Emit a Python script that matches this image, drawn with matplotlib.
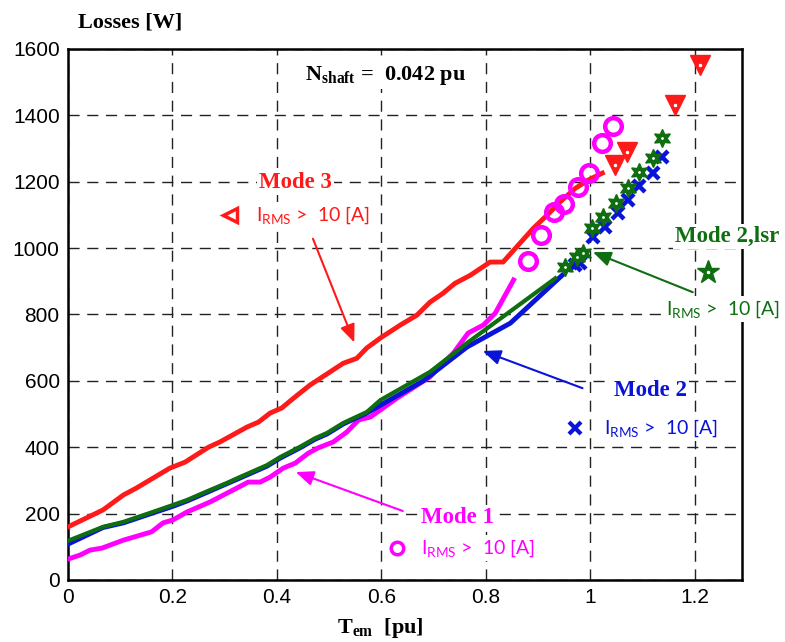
import matplotlib.pyplot as plt
import numpy as np

# Mode 3 (red)
x_m3 = [0, 0.067, 0.106, 0.131, 0.195, 0.224, 0.269, 0.291, 0.343, 0.365, 0.387, 0.409, 0.432,
        0.463, 0.527, 0.553, 0.572, 0.598, 0.636, 0.668, 0.693, 0.718, 0.741, 0.770, 0.808, 0.833,
        0.862, 0.891, 0.917, 0.942, 0.971, 0.996, 1.023]
y_m3 = [160, 211, 256, 277, 337, 355, 400, 416, 461, 476, 503, 518, 548, 587, 653, 668, 699, 729,
        768, 798, 837, 864, 894, 918, 958, 958, 1009, 1060, 1099, 1139, 1180, 1205, 1226]
# Mode 1 (magenta)
x_m1 = [0, 0.023, 0.042, 0.065, 0.106, 0.16, 0.182, 0.201, 0.228, 0.272, 0.316, 0.345, 0.368,
        0.387, 0.412, 0.435, 0.46, 0.479, 0.508, 0.534, 0.556, 0.579, 0.603, 0.63, 0.693, 0.738,
        0.766, 0.795, 0.818, 0.853]
y_m1 = [63, 75, 90, 96, 120, 145, 172, 181, 205, 235, 271, 295, 295, 310, 337, 352, 382, 398, 416,
        446, 482, 491, 518, 548, 612, 684, 744, 768, 804, 904]
# Mode 2 (blue)
x_m2 = [0, 0.067, 0.106, 0.157, 0.201, 0.228, 0.272, 0.304, 0.329, 0.381, 0.406, 0.444, 0.473,
        0.496, 0.527, 0.572, 0.611, 0.68, 0.764, 0.847, 0.946]
y_m2 = [108, 158, 172, 199, 222, 238, 268, 290, 307, 343, 367, 398, 424, 440, 470, 503, 538, 600,
        702, 774, 918]
# Mode 2,lsr (green)
x_m2l = [0, 0.067, 0.106, 0.157, 0.201, 0.228, 0.272, 0.304, 0.329, 0.381, 0.406, 0.444, 0.473,
         0.496, 0.527, 0.572, 0.598, 0.693, 0.764, 0.933]
y_m2l = [118, 160, 175, 202, 226, 241, 271, 292, 310, 346, 370, 401, 427, 443, 473, 506, 542, 627,
         714, 909]

# points where I_RMS > 10 A
xs_m3 = [1.048, 1.071, 1.163, 1.209]
ys_m3 = [1250, 1289, 1431, 1551]
xs_m1 = [0.881, 0.906, 0.930, 0.950, 0.977, 0.998, 1.023, 1.044]
ys_m1 = [961, 1039, 1108, 1133, 1184, 1225, 1317, 1369]
xs_m2 = [0.970, 0.981, 1.006, 1.029, 1.052, 1.073, 1.094, 1.119, 1.138]
ys_m2 = [950, 954, 1033, 1063, 1105, 1145, 1187, 1225, 1274]
xs_m2l = [0.952, 0.975, 0.985, 1.004, 1.025, 1.05, 1.073, 1.094, 1.119, 1.138]
ys_m2l = [943, 973, 985, 1060, 1093, 1135, 1181, 1229, 1271, 1331]

RED = '#ff1a1a'
MAG = '#ff00ff'
BLUE = '#0a14d8'
GREEN = '#0f6e0f'

plt.rcParams['mathtext.fontset'] = 'custom'
plt.rcParams['mathtext.rm'] = 'Liberation Serif'
plt.rcParams['mathtext.bf'] = 'Liberation Serif:bold'
plt.rcParams['mathtext.sf'] = 'Lato'

fig = plt.figure(figsize=(7.85, 6.42), dpi=100)
ax = fig.add_axes([0.0866, 0.0966, 0.8584, 0.8271])

ax.plot(x_m1, y_m1, color=MAG, lw=3.5, zorder=3)
ax.plot(x_m2, y_m2, color=BLUE, lw=3.5, zorder=3)
ax.plot(x_m2l, y_m2l, color=GREEN, lw=3, zorder=4)
ax.plot(x_m3, y_m3, color=RED, lw=3.5, zorder=3)

ax.plot(xs_m1, ys_m1, 'o', ms=12, mfc='none', mec=MAG, mew=3.2, zorder=5)
ax.plot(xs_m2, ys_m2, 'x', ms=8, mec=BLUE, mew=3.2, zorder=5)
ax.plot(xs_m2l, ys_m2l, ls='none', marker=(6, 1, 0), ms=13, mfc=GREEN, mec=GREEN, zorder=6)
ax.plot(xs_m2l, ys_m2l, '.', ms=2, color='white', zorder=7)
ax.plot(xs_m3, ys_m3, 'v', ms=15, color=RED, zorder=5)
ax.plot(xs_m3, ys_m3, '.', ms=3, color='white', zorder=6)

ax.set_xlim(0, 1.29)
ax.set_ylim(0, 1600)
ax.set_xticks([0, 0.2, 0.4, 0.6, 0.8, 1.0, 1.2])
ax.set_xticklabels(['0', '0.2', '0.4', '0.6', '0.8', '1', '1.2'])
ax.set_yticks(range(0, 1601, 200))
ax.grid(True, color='#222222', ls=(0, (8, 5.5)), lw=1.0)
ax.tick_params(labelsize=15, length=0, pad=6)
for lab in ax.get_xticklabels() + ax.get_yticklabels():
    lab.set_family('Liberation Sans')
for s in ax.spines.values():
    s.set_linewidth(1.8)

serif = dict(family='Liberation Serif', fontweight='bold')
box = dict(fc='white', ec='none', pad=1.5)
fig.text(0.10, 0.965, 'Losses [W]', fontsize=16, va='center', ha='left', **serif)
fig.text(0.485, 0.022, r'T$_{\mathbf{em}}$  [pu]', fontsize=16, va='center', ha='center', **serif)
ax.text(0.607, 1521, r'N$_{\mathbf{shaft}}$ =  0.042 pu', fontsize=16, ha='center', va='center',
        bbox=box, zorder=10, **serif)

sub = dict(family='Lato', fontsize=14, va='center', ha='left', bbox=box, zorder=10)
mode = dict(fontsize=16.5, ha='center', va='center', bbox=box, zorder=10, **serif)
irms = r'I$_{\mathsf{RMS}}$ >  10 [A]'
arrow = '-|>,head_length=0.6,head_width=0.25'

# Mode 3
ax.text(0.435, 1199, 'Mode 3', color=RED, **mode)
ax.plot([0.31], [1099], '<', ms=10, mfc='white', mec=RED, mew=2.5, zorder=11)
ax.text(0.36, 1099, irms, color=RED, **sub)
ax.annotate('', xy=(0.55, 708), xytext=(0.467, 1036),
            arrowprops=dict(arrowstyle=arrow, color=RED, lw=1.5, mutation_scale=18))

# Mode 2,lsr
ax.text(1.262, 1036, 'Mode 2,lsr', color=GREEN, **mode)
ax.plot([1.226], [928], '*', ms=17, color=GREEN, zorder=11)
ax.plot([1.226], [928], '.', ms=3, color='white', zorder=12)
ax.text(1.145, 816, irms, color=GREEN, **sub)
ax.annotate('', xy=(1.0, 991), xytext=(1.201, 864),
            arrowprops=dict(arrowstyle=arrow, color=GREEN, lw=1.5, mutation_scale=18))

# Mode 2
ax.text(1.115, 572, 'Mode 2', color=BLUE, **mode)
ax.plot([0.971], [458], 'x', ms=8, mec=BLUE, mew=3, zorder=11)
ax.text(1.027, 458, irms, color=BLUE, **sub)
ax.annotate('', xy=(0.789, 693), xytext=(0.99, 575),
            arrowprops=dict(arrowstyle=arrow, color=BLUE, lw=1.5, mutation_scale=18))

# Mode 1
ax.text(0.745, 187, 'Mode 1', color=MAG, **mode)
ax.plot([0.63], [96], 'o', ms=9, mfc='none', mec=MAG, mew=2.5, zorder=11)
ax.text(0.675, 96, irms, color=MAG, **sub)
ax.annotate('', xy=(0.431, 328), xytext=(0.646, 205),
            arrowprops=dict(arrowstyle=arrow, color=MAG, lw=1.5, mutation_scale=18))

plt.savefig('out.png', dpi=100)
